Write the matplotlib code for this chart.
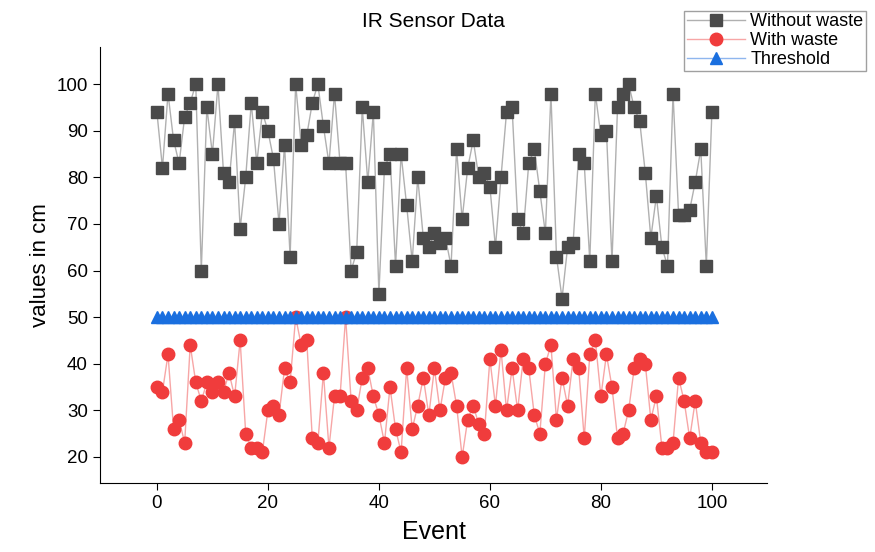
import matplotlib
matplotlib.use('Agg')
import matplotlib.pyplot as plt

plt.rcParams['font.family'] = ['Liberation Sans', 'DejaVu Sans']

# IR sensor readings, event 0..100
events = list(range(101))

without_waste = [94, 82, 98, 88, 83, 93, 96, 100, 60, 95,
                 85, 100, 81, 79, 92, 69, 80, 96, 83, 94,
                 90, 84, 70, 87, 63, 100, 87, 89, 96, 100,
                 91, 83, 98, 83, 83, 60, 64, 95, 79, 94,
                 55, 82, 85, 61, 85, 74, 62, 80, 67, 65,
                 68, 66, 67, 61, 86, 71, 82, 88, 80, 81,
                 78, 65, 80, 94, 95, 71, 68, 83, 86, 77,
                 68, 98, 63, 54, 65, 66, 85, 83, 62, 98,
                 89, 90, 62, 95, 98, 100, 95, 92, 81, 67,
                 76, 65, 61, 98, 72, 72, 73, 79, 86, 61,
                 94]

with_waste = [35, 34, 42, 26, 28, 23, 44, 36, 32, 36,
              34, 36, 34, 38, 33, 45, 25, 22, 22, 21,
              30, 31, 29, 39, 36, 50, 44, 45, 24, 23,
              38, 22, 33, 33, 50, 32, 30, 37, 39, 33,
              29, 23, 35, 26, 21, 39, 26, 31, 37, 29,
              39, 30, 37, 38, 31, 20, 28, 31, 27, 25,
              41, 31, 43, 30, 39, 30, 41, 39, 29, 25,
              40, 44, 28, 37, 31, 41, 39, 24, 42, 45,
              33, 42, 35, 24, 25, 30, 39, 41, 40, 28,
              33, 22, 22, 23, 37, 32, 24, 32, 23, 21,
              21]

threshold = [50] * len(events)

fig = plt.figure(figsize=(8.75, 5.52), dpi=100)
ax = fig.add_axes([0.114, 0.125, 0.763, 0.79])

ax.plot(events, without_waste, color='#b0b0b0', lw=1, marker='s', ms=8,
        mfc='#4a4a4a', mec='#4a4a4a', label='Without waste')
ax.plot(events, with_waste, color='#f7a6a6', lw=1, marker='o', ms=9,
        mfc='#f03c3c', mec='#f03c3c', label='With waste')
ax.plot(events, threshold, color='#8fb6ee', lw=1, marker='^', ms=8,
        mfc='#1a6fdf', mec='#1a6fdf', label='Threshold')

ax.set_xlim(-10.3, 110)
ax.set_ylim(14.4, 108)
ax.set_xticks(range(0, 101, 20))
ax.set_yticks(range(20, 101, 10))
ax.tick_params(direction='out', labelsize=13.5, length=5)
ax.spines['top'].set_visible(False)
ax.spines['right'].set_visible(False)

ax.set_title('IR Sensor Data', fontsize=15, pad=14)
ax.set_xlabel('Event', fontsize=18, labelpad=6)
ax.set_ylabel('values in cm', fontsize=16)

fig.legend(loc='upper right', bbox_to_anchor=(1.0, 0.997), fontsize=13,
           frameon=True, fancybox=False, edgecolor='#888888',
           borderpad=0.15, labelspacing=0.1, handlelength=3.2,
           handletextpad=0.3)

fig.savefig('out.png')
